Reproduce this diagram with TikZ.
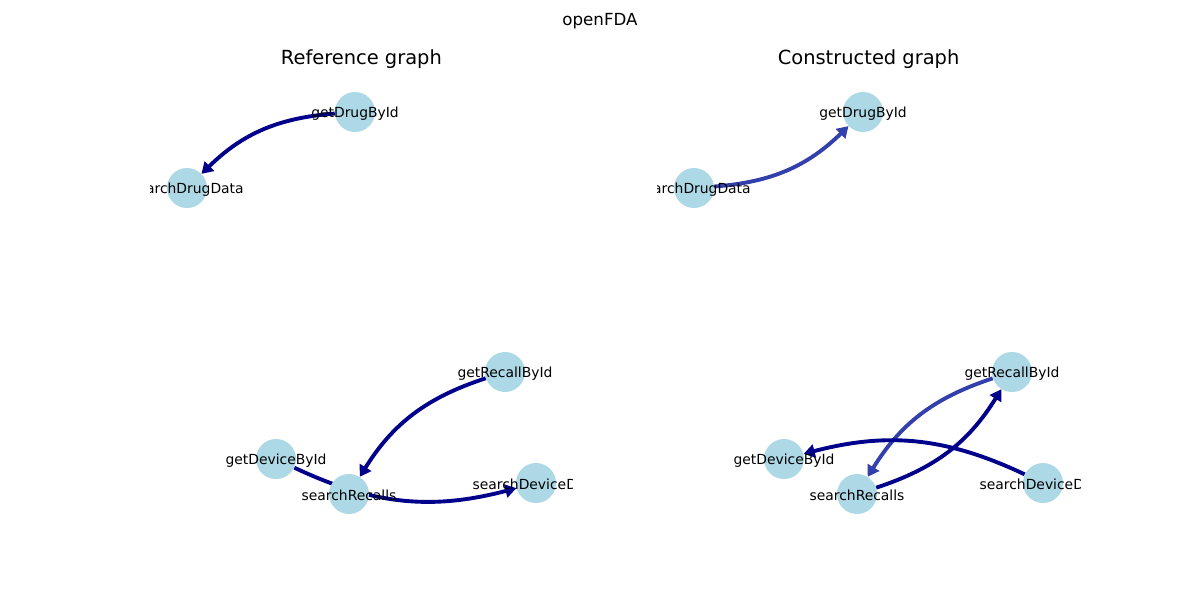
\documentclass[tikz,border=0pt]{standalone}
\usepackage{fontspec}
\setmainfont{DejaVu Sans}
\usetikzlibrary{arrows.meta,backgrounds}

\definecolor{nodeblue}{RGB}{173,216,230}
\definecolor{darkedge}{RGB}{0,0,139}
\definecolor{lightedge}{RGB}{51,63,170}

\tikzset{
  api/.style={circle, fill=nodeblue, minimum size=28.8pt, inner sep=0pt},
  every label/.style={yshift=-1pt},
  call/.style={line width=2.8pt, darkedge, -{Triangle[length=8pt, width=9.5pt]}, bend right=20},
  weakcall/.style={call, lightedge},
}

\begin{document}
\begin{tikzpicture}[x=0.72pt, y=-0.72pt, font=\fontsize{10}{12}\selectfont]
    \useasboundingbox (0,0) rectangle (1200,600);

    \node[font=\fontsize{12}{14}\selectfont] (suptitle) at (600,21.5) {openFDA};
    \node[font=\fontsize{14}{17}\selectfont] (reftitle) at (361.4,59.5) {Reference graph};
    \node[font=\fontsize{14}{17}\selectfont] (contitle) at (868.6,59.5) {Constructed graph};

    % reference graph
    \begin{scope}
        \clip (150,72) rectangle (572.7,534);
        \node[api, label=center:getDrugById] (rDrugId) at (355,112) {};
        \node[api, label=center:searchDrugData] (rDrugData) at (187,188) {};
        \node[api, label=center:getRecallById] (rRecallId) at (505,372) {};
        \node[api, label=center:getDeviceById] (rDeviceId) at (276,459) {};
        \node[api, label=center:searchRecalls] (rRecalls) at (349,494) {};
        \node[api, label=center:searchDeviceData] (rDeviceData) at (536,483) {};

        \begin{scope}[on background layer]
            \draw[call] (rDrugId) to (rDrugData);
            \draw[call] (rRecallId) to (rRecalls);
            \draw[call] (rDeviceId) to (rDeviceData);
        \end{scope}
    \end{scope}

    % constructed graph
    \begin{scope}
        \clip (657.3,72) rectangle (1080,534);
        \node[api, label=center:getDrugById] (cDrugId) at (863,112) {};
        \node[api, label=center:searchDrugData] (cDrugData) at (694,188) {};
        \node[api, label=center:getRecallById] (cRecallId) at (1012,372) {};
        \node[api, label=center:getDeviceById] (cDeviceId) at (784,459) {};
        \node[api, label=center:searchRecalls] (cRecalls) at (857,494) {};
        \node[api, label=center:searchDeviceData] (cDeviceData) at (1043,483) {};

        \begin{scope}[on background layer]
            \draw[weakcall] (cDrugData) to (cDrugId);
            \draw[weakcall] (cRecallId) to (cRecalls);
            \draw[call] (cRecalls) to (cRecallId);
            \draw[call] (cDeviceData) to (cDeviceId);
        \end{scope}
    \end{scope}
\end{tikzpicture}
\end{document}
